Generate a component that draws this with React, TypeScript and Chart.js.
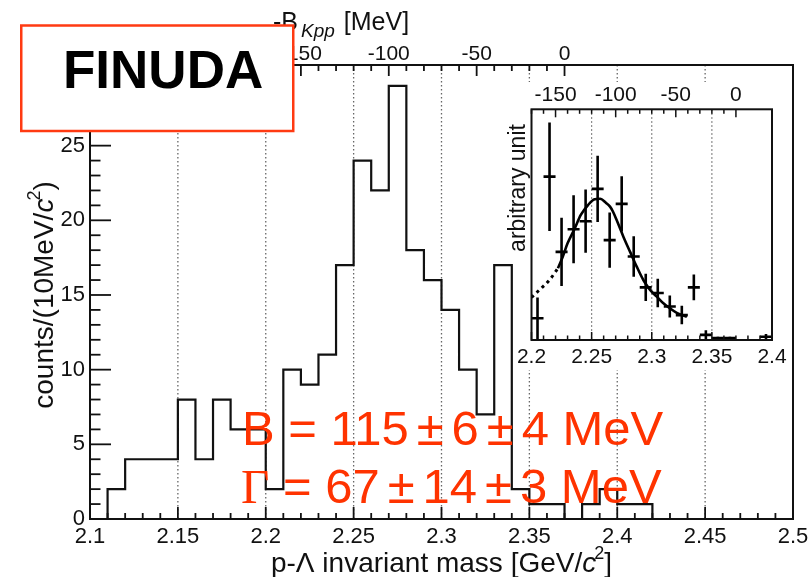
import React, { useEffect, useRef } from 'react';
import { Chart, registerables } from 'chart.js';

Chart.register(...registerables);

const SANS = '"Liberation Sans", Arial, Helvetica, sans-serif';
const SERIF = '"Liberation Serif", "Times New Roman", serif';
const RED = '#ff3300';
const BOX_RED = '#ff3a12';
const INK = '#111111';

// ---------- main histogram (p-Lambda invariant mass) ----------
const binLowEdges = [2.10, 2.11, 2.12, 2.13, 2.14, 2.15, 2.16, 2.17, 2.18, 2.19, 2.20, 2.21, 2.22, 2.23, 2.24, 2.25, 2.26, 2.27, 2.28, 2.29, 2.30, 2.31, 2.32, 2.33, 2.34, 2.35, 2.36, 2.37, 2.38, 2.39, 2.40, 2.41, 2.42, 2.43, 2.44, 2.45, 2.46, 2.47, 2.48, 2.49];
const binCounts = [0, 2, 4, 4, 4, 8, 4, 8, 6, 6, 2, 10, 9, 11, 17, 24, 22, 29, 18, 16, 14, 10, 7, 17, 2, 1, 1, 0, 1, 2, 1, 1, 0, 0, 0, 0, 0, 0, 0, 0];
const histUpperEdge = 2.50;

const massMin = 2.1;
const massMax = 2.5;
const countsMax = 30.4;
const kppThreshold = 2.370; // GeV/c^2 where B_Kpp = 0

const xTickValues = [2.1, 2.15, 2.2, 2.25, 2.3, 2.35, 2.4, 2.45, 2.5];
const xTickLabels = ['2.1', '2.15', '2.2', '2.25', '2.3', '2.35', '2.4', '2.45', '2.5'];
const yTickValues = [0, 5, 10, 15, 20, 25];
const yTickLabels = ['0', '5', '10', '15', '20', '25'];
const topTickValues = [-150, -100, -50, 0];
const topTickLabels = ['-150', '-100', '-50', '0'];
const gridValues = [2.15, 2.2, 2.25, 2.3, 2.35, 2.4, 2.45];

const xTitle = ['p-Λ invariant mass [GeV/', 'c', '2', ']'];
const yTitle = ['counts/(10MeV/', 'c', '2', ')'];
const topTitle = ['-B', 'Kpp', '[MeV]'];
const boxLabel = 'FINUDA';
const resultLine1 = ['B = 115', '±', '6', '±', '4 MeV'];
const resultLine2 = ['Γ', ' = 67', '±', '14', '±', '3 MeV'];

// ---------- inset (fit) ----------
const insetMass = [2.205, 2.215, 2.225, 2.235, 2.245, 2.255, 2.265, 2.275, 2.285, 2.295, 2.305, 2.315, 2.325, 2.335, 2.345, 2.355, 2.365, 2.395];
const insetValue = [0.94, 7.08, 3.82, 4.80, 5.15, 6.55, 4.33, 5.90, 3.62, 2.28, 2.04, 1.45, 1.08, 2.28, 0.22, 0.08, 0.08, 0.14];
const insetError = [0.90, 2.35, 1.48, 1.47, 1.37, 1.44, 1.20, 1.20, 0.88, 0.59, 0.62, 0.48, 0.40, 0.56, 0.20, 0.06, 0.06, 0.12];
const insetHalfBin = 0.005;
const fitDottedMass = [2.200, 2.208, 2.215, 2.222];
const fitDottedValue = [1.85, 2.24, 2.60, 3.11];
const fitSolidMass = [2.222, 2.226, 2.230, 2.236, 2.241, 2.247, 2.2525, 2.257, 2.262, 2.2653, 2.2678, 2.2708, 2.2764, 2.2819, 2.2875, 2.293, 2.2986, 2.3042, 2.3097, 2.3153, 2.3208, 2.3292];
const fitSolidValue = [3.11, 3.61, 4.19, 4.84, 5.42, 5.85, 6.10, 6.12, 5.94, 5.78, 5.56, 5.20, 4.48, 3.83, 3.18, 2.60, 2.17, 1.88, 1.59, 1.37, 1.18, 1.01];
const insetMassMin = 2.2;
const insetMassMax = 2.4;
const insetValueMax = 10;
const insetXTickValues = [2.2, 2.25, 2.3, 2.35, 2.4];
const insetXTickLabels = ['2.2', '2.25', '2.3', '2.35', '2.4'];
const insetTopTickValues = [-150, -100, -50, 0];
const insetTopTickLabels = ['-150', '-100', '-50', '0'];
const insetGridValues = [2.25, 2.3, 2.35];
const insetYTitle = 'arbitrary unit';

function labelFor(values: number[], labels: string[], v: number): string {
  const i = values.findIndex((t) => Math.abs(t - v) < 1e-6);
  return i >= 0 ? labels[i] : '';
}

type Seg = { text: string; font: string; dy?: number; padL?: number; padR?: number };

function segWidth(ctx: CanvasRenderingContext2D, segs: Seg[]): number {
  let w = 0;
  for (const s of segs) {
    ctx.font = s.font;
    w += (s.padL || 0) + ctx.measureText(s.text).width + (s.padR || 0);
  }
  return w;
}

function drawSegs(ctx: CanvasRenderingContext2D, segs: Seg[], x: number, y: number) {
  let cx = x;
  ctx.textAlign = 'left';
  ctx.textBaseline = 'alphabetic';
  for (const s of segs) {
    ctx.font = s.font;
    cx += s.padL || 0;
    ctx.fillText(s.text, cx, y + (s.dy || 0));
    cx += ctx.measureText(s.text).width + (s.padR || 0);
  }
}

function vLine(ctx: CanvasRenderingContext2D, x: number, y0: number, y1: number) {
  ctx.beginPath();
  ctx.moveTo(x, y0);
  ctx.lineTo(x, y1);
  ctx.stroke();
}
function hLine(ctx: CanvasRenderingContext2D, x0: number, x1: number, y: number) {
  ctx.beginPath();
  ctx.moveTo(x0, y);
  ctx.lineTo(x1, y);
  ctx.stroke();
}

const mainDecor = {
  id: 'mainDecor',
  beforeDatasetsDraw(chart: any) {
    const { ctx, chartArea } = chart;
    const xs = chart.scales.x;
    ctx.save();
    ctx.strokeStyle = '#666';
    ctx.lineWidth = 1.3;
    ctx.setLineDash([1.5, 2.5]);
    for (const v of gridValues) {
      const px = xs.getPixelForValue(v);
      vLine(ctx, px, chartArea.top, chartArea.bottom);
    }
    ctx.restore();
  },
  afterDatasetsDraw(chart: any) {
    const { ctx, chartArea } = chart;
    const { left, right, top, bottom } = chartArea;
    const xs = chart.scales.x;
    const xt = chart.scales.xTop;
    const ys = chart.scales.y;
    ctx.save();
    ctx.strokeStyle = INK;
    ctx.lineWidth = 2;
    ctx.strokeRect(left, top, right - left, bottom - top);
    ctx.lineWidth = 1.8;
    // bottom ticks (inward)
    for (let i = 0; i <= 40; i++) {
      const v = massMin + i * 0.01;
      const px = xs.getPixelForValue(v);
      const major = i % 5 === 0;
      vLine(ctx, px, bottom, bottom - (major ? 12 : 6));
    }
    // top ticks (B_Kpp, up to 0)
    for (let m = -270; m <= 0; m += 10) {
      const px = xt.getPixelForValue(m);
      const major = m % 50 === 0;
      vLine(ctx, px, top, top + (major ? 11 : 6));
    }
    // left ticks
    for (let v = 0; v <= 30; v++) {
      const py = ys.getPixelForValue(v);
      const major = v % 5 === 0;
      hLine(ctx, left, left + (major ? 21 : 10.5), py);
    }
    ctx.restore();
  },
  afterDraw(chart: any) {
    const { ctx, chartArea } = chart;
    ctx.save();
    ctx.fillStyle = INK;
    // x title
    const xSegs: Seg[] = [
      { text: xTitle[0], font: `28px ${SANS}` },
      { text: xTitle[1], font: `italic 28px ${SANS}` },
      { text: xTitle[2], font: `18px ${SANS}`, dy: -13, padL: -2 },
      { text: xTitle[3], font: `28px ${SANS}` },
    ];
    const xc = (chartArea.left + chartArea.right) / 2;
    drawSegs(ctx, xSegs, xc - segWidth(ctx, xSegs) / 2, 572);
    // y title
    const ySegs: Seg[] = [
      { text: yTitle[0], font: `28px ${SANS}` },
      { text: yTitle[1], font: `italic 28px ${SANS}` },
      { text: yTitle[2], font: `18px ${SANS}`, dy: -13, padL: -2 },
      { text: yTitle[3], font: `28px ${SANS}` },
    ];
    ctx.save();
    ctx.translate(53, 295);
    ctx.rotate(-Math.PI / 2);
    drawSegs(ctx, ySegs, -segWidth(ctx, ySegs) / 2, 0);
    ctx.restore();
    // top title
    const tSegs: Seg[] = [
      { text: topTitle[0], font: `25px ${SANS}` },
      { text: topTitle[1], font: `italic 19px ${SANS}`, dy: 7, padL: 3 },
      { text: topTitle[2], font: `25px ${SANS}`, padL: 9 },
    ];
    drawSegs(ctx, tSegs, 273, 30);

    // result text
    ctx.fillStyle = RED;
    const f = `49px ${SANS}`;
    const pm = 8;
    const l1: Seg[] = [
      { text: resultLine1[0], font: f },
      { text: resultLine1[1], font: f, padL: pm, padR: pm },
      { text: resultLine1[2], font: f },
      { text: resultLine1[3], font: f, padL: pm, padR: pm },
      { text: resultLine1[4], font: f },
    ];
    drawSegs(ctx, l1, 242, 445);
    const l2: Seg[] = [
      { text: resultLine2[0], font: `49px ${SERIF}` },
      { text: resultLine2[1], font: f },
      { text: resultLine2[2], font: f, padL: pm, padR: pm },
      { text: resultLine2[3], font: f },
      { text: resultLine2[4], font: f, padL: pm, padR: pm },
      { text: resultLine2[5], font: f },
    ];
    drawSegs(ctx, l2, 241, 503);

    // FINUDA box
    ctx.fillStyle = '#ffffff';
    ctx.fillRect(21, 25.5, 272, 105.5);
    ctx.strokeStyle = BOX_RED;
    ctx.lineWidth = 2.5;
    ctx.strokeRect(21.25, 25.5, 272, 105.5);
    ctx.fillStyle = '#000';
    ctx.font = `bold 53px ${SANS}`;
    ctx.textAlign = 'left';
    ctx.textBaseline = 'alphabetic';
    ctx.fillText(boxLabel, 63, 88);
    ctx.restore();
  },
};

const insetDecor = {
  id: 'insetDecor',
  beforeDraw(chart: any) {
    const { ctx } = chart;
    ctx.save();
    ctx.fillStyle = '#ffffff';
    ctx.fillRect(18, 2, 267, 288);
    ctx.restore();
  },
  beforeDatasetsDraw(chart: any) {
    const { ctx, chartArea } = chart;
    const xs = chart.scales.x;
    ctx.save();
    ctx.strokeStyle = '#666';
    ctx.lineWidth = 1.2;
    ctx.setLineDash([1.5, 2.5]);
    for (const v of insetGridValues) {
      vLine(ctx, xs.getPixelForValue(v), chartArea.top, chartArea.bottom);
    }
    ctx.restore();
  },
  afterDatasetsDraw(chart: any) {
    const { ctx, chartArea } = chart;
    const { left, right, top, bottom } = chartArea;
    const xs = chart.scales.x;
    const xt = chart.scales.xTop;
    const ys = chart.scales.y;
    ctx.save();
    ctx.beginPath();
    ctx.rect(left, top, right - left, bottom - top);
    ctx.clip();
    ctx.strokeStyle = '#000';
    ctx.lineWidth = 2.6;
    for (let i = 0; i < insetMass.length; i++) {
      const px = xs.getPixelForValue(insetMass[i]);
      const py = ys.getPixelForValue(insetValue[i]);
      const pTop = ys.getPixelForValue(insetValue[i] + insetError[i]);
      const pBot = ys.getPixelForValue(Math.max(0, insetValue[i] - insetError[i]));
      vLine(ctx, px, pTop, pBot);
      hLine(ctx, xs.getPixelForValue(insetMass[i] - insetHalfBin), xs.getPixelForValue(insetMass[i] + insetHalfBin), py);
    }
    ctx.restore();
    ctx.save();
    ctx.strokeStyle = INK;
    ctx.lineWidth = 2;
    ctx.strokeRect(left, top, right - left, bottom - top);
    ctx.lineWidth = 1.5;
    for (let i = 0; i <= 20; i++) {
      const px = xs.getPixelForValue(insetMassMin + i * 0.01);
      vLine(ctx, px, bottom, bottom - (i % 5 === 0 ? 8 : 4.5));
    }
    for (let m = -170; m <= 0; m += 10) {
      const px = xt.getPixelForValue(m);
      vLine(ctx, px, top, top + (m % 50 === 0 ? 8 : 4.5));
    }
    ctx.fillStyle = INK;
    ctx.font = `23px ${SANS}`;
    ctx.textAlign = 'center';
    ctx.textBaseline = 'alphabetic';
    ctx.translate(25, 108);
    ctx.rotate(-Math.PI / 2);
    ctx.fillText(insetYTitle, 0, 0);
    ctx.restore();
  },
};

export default function App() {
  const mainRef = useRef<HTMLCanvasElement>(null);
  const insetRef = useRef<HTMLCanvasElement>(null);

  useEffect(() => {
    const histPoints = binLowEdges.map((x, i) => ({ x, y: binCounts[i] }));
    histPoints.push({ x: histUpperEdge, y: 0 });

    const main = new Chart(mainRef.current as HTMLCanvasElement, {
      type: 'line',
      data: {
        datasets: [
          {
            data: histPoints,
            stepped: true,
            borderColor: INK,
            borderWidth: 2.2,
            pointRadius: 0,
            fill: false,
            xAxisID: 'x',
            yAxisID: 'y',
          },
        ],
      },
      options: {
        responsive: false,
        animation: false,
        devicePixelRatio: 1,
        events: [],
        layout: { padding: { left: 0, right: 16, top: 0, bottom: 0 } },
        plugins: { legend: { display: false }, tooltip: { enabled: false } },
        scales: {
          x: {
            type: 'linear',
            position: 'bottom',
            min: massMin,
            max: massMax,
            afterBuildTicks: (s: any) => {
              s.ticks = xTickValues.map((v) => ({ value: v }));
            },
            afterFit: (s: any) => {
              s.height = 58;
              s.paddingLeft = 0;
              s.paddingRight = 0;
            },
            grid: { display: false, drawTicks: false },
            border: { display: false },
            ticks: {
              autoSkip: false,
              maxRotation: 0,
              padding: 5,
              color: INK,
              font: { family: SANS, size: 22 },
              callback: (v: any) => labelFor(xTickValues, xTickLabels, Number(v)),
            },
          },
          xTop: {
            type: 'linear',
            position: 'top',
            min: (massMin - kppThreshold) * 1000,
            max: (massMax - kppThreshold) * 1000,
            afterBuildTicks: (s: any) => {
              s.ticks = topTickValues.map((v) => ({ value: v }));
            },
            afterFit: (s: any) => {
              s.height = 65;
              s.paddingLeft = 0;
              s.paddingRight = 0;
            },
            grid: { display: false, drawTicks: false },
            border: { display: false },
            ticks: {
              autoSkip: false,
              maxRotation: 0,
              padding: -2,
              color: INK,
              font: { family: SANS, size: 21 },
              callback: (v: any) => labelFor(topTickValues, topTickLabels, Number(v)),
            },
          },
          y: {
            type: 'linear',
            position: 'left',
            min: 0,
            max: countsMax,
            afterBuildTicks: (s: any) => {
              s.ticks = yTickValues.map((v) => ({ value: v }));
            },
            afterFit: (s: any) => {
              s.width = 90;
              s.paddingTop = 0;
              s.paddingBottom = 0;
            },
            grid: { display: false, drawTicks: false },
            border: { display: false },
            ticks: {
              padding: 5,
              color: INK,
              font: { family: SANS, size: 22 },
              callback: (v: any) => labelFor(yTickValues, yTickLabels, Number(v)),
            },
          },
        },
      } as any,
      plugins: [mainDecor],
    });

    const inset = new Chart(insetRef.current as HTMLCanvasElement, {
      type: 'line',
      data: {
        datasets: [
          {
            data: fitDottedMass.map((x, i) => ({ x, y: fitDottedValue[i] })),
            borderColor: '#000',
            borderWidth: 3,
            borderDash: [3, 4],
            pointRadius: 0,
            cubicInterpolationMode: 'monotone',
            fill: false,
            xAxisID: 'x',
            yAxisID: 'y',
          },
          {
            data: fitSolidMass.map((x, i) => ({ x, y: fitSolidValue[i] })),
            borderColor: '#000',
            borderWidth: 2.6,
            pointRadius: 0,
            cubicInterpolationMode: 'monotone',
            fill: false,
            xAxisID: 'x',
            yAxisID: 'y',
          },
        ],
      },
      options: {
        responsive: false,
        animation: false,
        devicePixelRatio: 1,
        events: [],
        layout: { padding: { left: 31.5, right: 20, top: 0, bottom: 0 } },
        plugins: { legend: { display: false }, tooltip: { enabled: false } },
        scales: {
          x: {
            type: 'linear',
            position: 'bottom',
            min: insetMassMin,
            max: insetMassMax,
            afterBuildTicks: (s: any) => {
              s.ticks = insetXTickValues.map((v) => ({ value: v }));
            },
            afterFit: (s: any) => {
              s.height = 32;
              s.paddingLeft = 0;
              s.paddingRight = 0;
            },
            grid: { display: false, drawTicks: false },
            border: { display: false },
            ticks: {
              autoSkip: false,
              maxRotation: 0,
              padding: 5,
              color: INK,
              font: { family: SANS, size: 21 },
              callback: (v: any) => labelFor(insetXTickValues, insetXTickLabels, Number(v)),
            },
          },
          xTop: {
            type: 'linear',
            position: 'top',
            min: (insetMassMin - kppThreshold) * 1000,
            max: (insetMassMax - kppThreshold) * 1000,
            afterBuildTicks: (s: any) => {
              s.ticks = insetTopTickValues.map((v) => ({ value: v }));
            },
            afterFit: (s: any) => {
              s.height = 29.3;
              s.paddingLeft = 0;
              s.paddingRight = 0;
            },
            grid: { display: false, drawTicks: false },
            border: { display: false },
            ticks: {
              autoSkip: false,
              maxRotation: 0,
              padding: 1,
              color: INK,
              font: { family: SANS, size: 21 },
              callback: (v: any) => labelFor(insetTopTickValues, insetTopTickLabels, Number(v)),
            },
          },
          y: {
            type: 'linear',
            min: 0,
            max: insetValueMax,
            display: false,
          },
        },
      } as any,
      plugins: [insetDecor],
    });

    return () => {
      main.destroy();
      inset.destroy();
    };
  }, []);

  return (
    <div style={{ position: 'fixed', left: 0, top: 0, width: 809, height: 577, background: '#ffffff', overflow: 'hidden' }}>
      <canvas ref={mainRef} width={809} height={577} style={{ position: 'absolute', left: 0, top: 0, width: 809, height: 577 }} />
      <canvas ref={insetRef} width={292} height={292} style={{ position: 'absolute', left: 500, top: 80, width: 292, height: 292 }} />
    </div>
  );
}
